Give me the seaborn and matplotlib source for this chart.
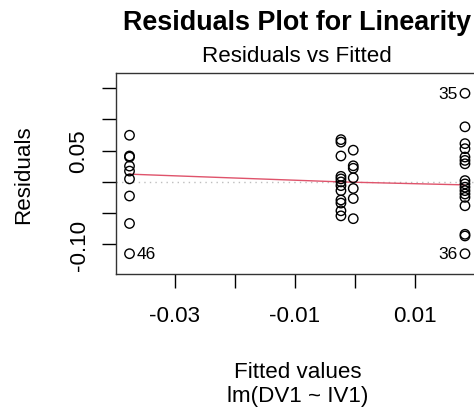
import matplotlib
matplotlib.use("Agg")
import matplotlib.pyplot as plt
import seaborn as sns
import pandas as pd

# Fitted values (four distinct groups) and their residuals
fit_left = -0.03755
fit_mid_a = -0.00233
fit_mid_b = -0.00028
fit_right = 0.01833

res_left = [0.0747, 0.0415, 0.0398, 0.0253, 0.0173, 0.0048, -0.0226, -0.0666, -0.1150]
res_mid_a = [0.0677, 0.0637, 0.0415, 0.0089, 0.0048, 0.0000, -0.0060, -0.0140,
             -0.0290, -0.0339, -0.0463, -0.0544]
res_mid_b = [0.0508, 0.0258, 0.0218, 0.0065, -0.0105, -0.0266, -0.0589]
res_right = [0.1419, 0.0882, 0.0613, 0.0532, 0.0398, 0.0344, 0.0290, 0.0021, -0.0032,
             -0.0085, -0.0140, -0.0194, -0.0247, -0.0382, -0.0839, -0.0866, -0.1150]

# Smoothed trend of residuals against fitted values
smooth_x = [fit_left, fit_mid_a, fit_mid_b, fit_right]
smooth_y = [0.0124, 0.0000, -0.0005, -0.0048]

# Labelled observations: (id, fitted, residual, side)
outliers = [("46", fit_left, -0.1150, "right"),
            ("35", fit_right, 0.1419, "left"),
            ("36", fit_right, -0.1150, "left")]

xticks = [-0.03, -0.02, -0.01, 0.0, 0.01, 0.02]
xticklabels = ["-0.03", "", "-0.01", "", "0.01", ""]
yticks = [-0.10, -0.05, 0.0, 0.05, 0.10, 0.15]
yticklabels = ["-0.10", "", "", "0.05", "", ""]

df = pd.DataFrame({
    "fitted": [fit_left] * len(res_left) + [fit_mid_a] * len(res_mid_a)
              + [fit_mid_b] * len(res_mid_b) + [fit_right] * len(res_right),
    "resid": res_left + res_mid_a + res_mid_b + res_right,
})

sns.set_style("ticks")
plt.rcParams["font.family"] = ["Liberation Sans", "DejaVu Sans"]
plt.rcParams["text.color"] = "black"
plt.rcParams["axes.labelcolor"] = "black"

W, H = 474, 410
fig = plt.figure(figsize=(W / 100, H / 100), dpi=100)
ax_left, ax_right, ax_top, ax_bottom = 116, 478.6, 74, 275
ax = fig.add_axes([ax_left / W, 1 - ax_bottom / H,
                   (ax_right - ax_left) / W, (ax_bottom - ax_top) / H])

base = 16.1  # pt

ax.axhline(0, color="#BEBEBE", linestyle=(0, (1, 3)), linewidth=1.0, zorder=1)
sns.scatterplot(data=df, x="fitted", y="resid", ax=ax, marker="o",
                facecolors="none", edgecolor="black", linewidth=1.0, s=46, zorder=3)
sns.lineplot(x=smooth_x, y=smooth_y, ax=ax, color="#DF536B", linewidth=1.0,
             zorder=2, estimator=None, sort=True)

for lab, fx, ry, side in outliers:
    off = 5 if side == "right" else -5
    ax.annotate(lab, (fx, ry), xytext=(off, 0), textcoords="offset points",
                ha="left" if side == "right" else "right", va="center",
                fontsize=base * 0.78, color="black")

ax.set_xlim(-0.0398, 0.0206)
ax.set_ylim(-0.1475, 0.1744)
ax.set_xticks(xticks)
ax.set_xticklabels(xticklabels)
ax.set_yticks(yticks)
ax.set_yticklabels(yticklabels, rotation=90, va="center")
ax.tick_params(axis="both", direction="out", length=10, width=1.0, color="black",
               labelsize=base, labelcolor="black")
ax.tick_params(axis="x", pad=12)
ax.tick_params(axis="y", pad=9)
for sp in ax.spines.values():
    sp.set_visible(True)
    sp.set_color("#333333")
    sp.set_linewidth(1.0)
ax.set_xlabel("")
ax.set_ylabel("")

cx = (ax_left + ax_right) / 2 / W
fig.text(cx, 1 - 30 / H, "Residuals Plot for Linearity", ha="center", va="baseline",
         fontsize=base * 1.2, fontweight="bold")
fig.text(cx, 1 - 62 / H, "Residuals vs Fitted", ha="center", va="baseline", fontsize=base)
fig.text(cx, 1 - 378 / H, "Fitted values", ha="center", va="baseline", fontsize=base)
fig.text(cx, 1 - 402 / H, "lm(DV1 ~ IV1)", ha="center", va="baseline", fontsize=base)
fig.text(24 / W, 1 - 175 / H, "Residuals", ha="center", va="center", rotation=90,
         fontsize=base)

fig.savefig("out.png", dpi=100, facecolor="white")
